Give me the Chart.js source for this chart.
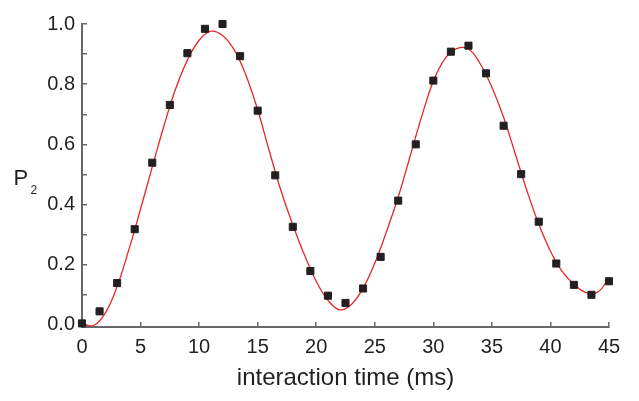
<!DOCTYPE html>
<html lang="en">
<head>
  <meta charset="UTF-8" />
  <title>P2 vs interaction time</title>
  <script src="https://cdn.jsdelivr.net/npm/chart.js"></script>
  <style>
    body { margin: 0; background: #fff; }
    #wrap { width: 639px; height: 401px; }
  </style>
</head>
<body>
  <div id="wrap"><canvas id="chart" width="639" height="401"></canvas></div>

  <script>
    // measured points (interaction time in ms, P2)
    const measTime = [0, 1.5, 3, 4.5, 6, 7.5, 9, 10.5, 12, 13.5, 15, 16.5, 18, 19.5, 21, 22.5,
                      24, 25.5, 27, 28.5, 30, 31.5, 33, 34.5, 36, 37.5, 39, 40.5, 42, 43.5, 45];
    const measP2 = [0.005, 0.045, 0.139, 0.318, 0.539, 0.731, 0.903, 0.984, 1.000, 0.893, 0.712,
                    0.497, 0.326, 0.179, 0.097, 0.073, 0.121, 0.226, 0.413, 0.600, 0.812, 0.908,
                    0.928, 0.836, 0.662, 0.501, 0.343, 0.204, 0.133, 0.100, 0.145];

    // fitted curve, every 1 ms
    const fitTime = [0, 1, 2, 3, 4, 5, 6, 7, 8, 9, 10, 11, 12, 13, 14, 15, 16, 17, 18, 19, 20, 21, 22,
                     23, 24, 25, 26, 27, 28, 29, 30, 31, 32, 33, 34, 35, 36, 37, 38, 39, 40, 41, 42, 43, 44, 45];
    const fitP2 = [0.003, -0.002, 0.040, 0.128, 0.250, 0.385, 0.525, 0.662, 0.785, 0.880, 0.946, 0.976,
                   0.962, 0.914, 0.830, 0.715, 0.577, 0.445, 0.333, 0.232, 0.145, 0.082, 0.050, 0.068,
                   0.122, 0.205, 0.310, 0.425, 0.558, 0.692, 0.810, 0.885, 0.918, 0.917, 0.868, 0.790,
                   0.690, 0.568, 0.445, 0.335, 0.245, 0.178, 0.135, 0.108, 0.108, 0.155];

    const xTickValues = [0, 5, 10, 15, 20, 25, 30, 35, 40, 45];
    const xTickLabels = ['0', '5', '10', '15', '20', '25', '30', '35', '40', '45'];
    const yTickValues = [0, 0.1, 0.2, 0.3, 0.4, 0.5, 0.6, 0.7, 0.8, 0.9, 1.0];
    const yTickLabels = ['0.0', '', '0.2', '', '0.4', '', '0.6', '', '0.8', '', '1.0'];

    const FONT = '"Liberation Sans", Arial, Helvetica, sans-serif';
    const textColor = '#231f20';
    const axisGray = '#67686b';

    // y axis label "P" with subscript 2
    const p2Label = {
      id: 'p2Label',
      afterDraw(chart) {
        const { ctx, chartArea } = chart;
        const mid = (chartArea.top + chartArea.bottom) / 2;
        ctx.save();
        ctx.fillStyle = textColor;
        ctx.textBaseline = 'alphabetic';
        ctx.textAlign = 'left';
        ctx.font = '22px ' + FONT;
        ctx.fillText('P', 13.5, mid + 9);
        ctx.font = '12px ' + FONT;
        ctx.fillText('2', 30.5, mid + 18);
        ctx.restore();
      }
    };

    new Chart(document.getElementById('chart'), {
      type: 'scatter',
      data: {
        datasets: [
          {
            label: 'measured',
            data: measTime.map((t, i) => ({ x: t, y: measP2[i] })),
            pointStyle: 'rect',
            pointRadius: 5,
            pointBorderWidth: 1,
            backgroundColor: textColor,
            borderColor: textColor,
            clip: false
          },
          {
            label: 'fit',
            data: fitTime.map((t, i) => ({ x: t, y: fitP2[i] })),
            showLine: true,
            pointRadius: 0,
            borderColor: '#e8262b',
            borderWidth: 1.3,
            tension: 0.4,
            clip: false
          }
        ]
      },
      options: {
        responsive: false,
        animation: false,
        layout: { padding: { left: 0, right: 30, top: 14, bottom: 0 } },
        plugins: {
          legend: { display: false },
          tooltip: { enabled: false }
        },
        scales: {
          x: {
            type: 'linear',
            min: 0,
            max: 45,
            afterBuildTicks: s => { s.ticks = xTickValues.map(v => ({ value: v })); },
            afterFit: s => { s.height = 74; },
            ticks: {
              callback: (v, i) => xTickLabels[i],
              autoSkip: false,
              maxRotation: 0,
              padding: 13,
              color: textColor,
              font: { family: FONT, size: 20 }
            },
            grid: { drawOnChartArea: false, tickLength: -5, color: axisGray, lineWidth: 1.5 },
            border: { color: axisGray, width: 2 },
            title: {
              display: true,
              text: 'interaction time (ms)',
              color: textColor,
              font: { family: FONT, size: 24 },
              padding: { top: 0, bottom: 8 }
            }
          },
          y: {
            min: -0.007,
            max: 1.0,
            afterBuildTicks: s => { s.ticks = yTickValues.map(v => ({ value: v })); },
            afterFit: s => { s.width = 82; },
            ticks: {
              callback: (v, i) => yTickLabels[i],
              autoSkip: false,
              padding: 12,
              color: textColor,
              font: { family: FONT, size: 20 }
            },
            grid: { drawOnChartArea: false, tickLength: -5, color: axisGray, lineWidth: 1.5 },
            border: { color: axisGray, width: 2 }
          }
        }
      },
      plugins: [p2Label]
    });
  </script>
</body>
</html>
